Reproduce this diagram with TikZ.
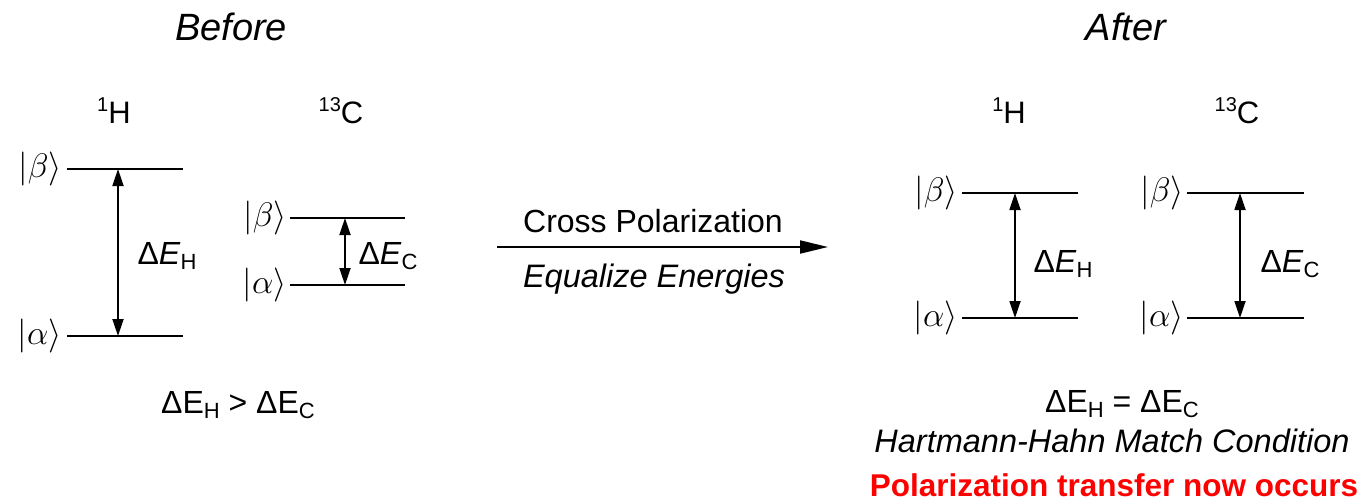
\documentclass[tikz,border=0pt]{standalone}
\usepackage{fix-cm}
\usepackage{fontspec}
\setmainfont{Liberation Sans}
\usetikzlibrary{arrows.meta}
% small raised / lowered labels
\newcommand{\upsup}[1]{\raisebox{12pt}{\fontsize{20}{20}\selectfont #1}}
\newcommand{\lowsub}[1]{\raisebox{-5pt}{\fontsize{22}{22}\selectfont #1}}
\newcommand{\dE}[1]{Δ\textit{E}\lowsub{#1}}
\newcommand{\dEup}[1]{ΔE\lowsub{#1}}
\begin{document}
\begin{tikzpicture}[x=1pt,y=-1pt,
  level/.style={line width=2pt},
  gap/.style={line width=1.8pt,
    {Triangle[length=17pt,width=11pt]}-{Triangle[length=17pt,width=11pt]}},
  mainarrow/.style={line width=2pt,-{Triangle[length=28pt,width=13pt]}},
  ket/.style={font=\fontsize{34}{34}\selectfont, anchor=east, inner sep=0pt},
  txt/.style={font=\fontsize{32}{38}\selectfont, anchor=base, inner sep=0pt},
  nucleus/.style={font=\fontsize{31}{36}\selectfont, anchor=base, inner sep=0pt},
  title/.style={font=\fontsize{38}{42}\selectfont\itshape, anchor=base, inner sep=0pt},
  note/.style={font=\fontsize{32.5}{38}\selectfont\itshape, anchor=base, inner sep=0pt},
  alert/.style={font=\fontsize{31.5}{36}\selectfont\bfseries, text=red, anchor=base, inner sep=0pt}
]
\useasboundingbox (0,0) rectangle (1366,501);

% ---------- titles ----------
\node[title] (before) at (231,40) {Before};
\node[title] (after) at (1126,40) {After};

% ---------- left: 1H levels ----------
\node[nucleus] (nH1) at (114,123) {\upsup{1}H};
\coordinate (Hb1) at (67,169);  \coordinate (Hb2) at (183,169);
\coordinate (Ha1) at (67,336);  \coordinate (Ha2) at (183,336);
\coordinate (Hbm) at (118,169); \coordinate (Ham) at (118,336);
\draw[level] (Hb1) -- (Hb2);
\draw[level] (Ha1) -- (Ha2);
\draw[gap] (Hbm) -- (Ham);
\node[ket] (kHb1) at (62,169) {$|\beta\rangle$};
\node[ket] (kHa1) at (62,336) {$|\alpha\rangle$};
\node[txt] (dH1) at (167,264) {\dE{H}};

% ---------- left: 13C levels ----------
\node[nucleus] (nC1) at (341,123) {\upsup{13}C};
\coordinate (Cb1) at (290,218);  \coordinate (Cb2) at (405,218);
\coordinate (Ca1) at (290,285);  \coordinate (Ca2) at (405,285);
\coordinate (Cbm) at (345,218);  \coordinate (Cam) at (345,285);
\draw[level] (Cb1) -- (Cb2);
\draw[level] (Ca1) -- (Ca2);
\draw[gap] (Cbm) -- (Cam);
\node[ket] (kCb1) at (287,218) {$|\beta\rangle$};
\node[ket] (kCa1) at (287,285) {$|\alpha\rangle$};
\node[txt] (dC1) at (388,264) {\dE{C}};

\node[txt] (cmp1) at (238,413) {\dEup{H} > \dEup{C}};

% ---------- transformation arrow ----------
\coordinate (p1) at (497,247);
\coordinate (p2) at (828,247);
\draw[mainarrow] (p1) -- (p2);
\node[txt] (cp) at (653,232) {Cross Polarization};
\node[note] (eq) at (654,287) {Equalize Energies};

% ---------- right: 1H levels ----------
\node[nucleus] (nH2) at (1009,123) {\upsup{1}H};
\coordinate (Hb3) at (962,193);  \coordinate (Hb4) at (1078,193);
\coordinate (Ha3) at (962,318);  \coordinate (Ha4) at (1078,318);
\coordinate (Hbn) at (1015,193); \coordinate (Han) at (1015,318);
\draw[level] (Hb3) -- (Hb4);
\draw[level] (Ha3) -- (Ha4);
\draw[gap] (Hbn) -- (Han);
\node[ket] (kHb2) at (958,193) {$|\beta\rangle$};
\node[ket] (kHa2) at (958,318) {$|\alpha\rangle$};
\node[txt] (dH2) at (1063,272) {\dE{H}};

% ---------- right: 13C levels ----------
\node[nucleus] (nC2) at (1237,123) {\upsup{13}C};
\coordinate (Cb3) at (1187,193);  \coordinate (Cb4) at (1304,193);
\coordinate (Ca3) at (1187,318);  \coordinate (Ca4) at (1304,318);
\coordinate (Cbn) at (1240,193);  \coordinate (Can) at (1240,318);
\draw[level] (Cb3) -- (Cb4);
\draw[level] (Ca3) -- (Ca4);
\draw[gap] (Cbn) -- (Can);
\node[ket] (kCb2) at (1184,193) {$|\beta\rangle$};
\node[ket] (kCa2) at (1184,318) {$|\alpha\rangle$};
\node[txt] (dC2) at (1290,272) {\dE{C}};

\node[txt] (cmp2) at (1122,412) {\dEup{H} = \dEup{C}};
\node[note] (hh) at (1112,452) {Hartmann-Hahn Match Condition};
\node[alert] (pt) at (1114,496) {Polarization transfer now occurs};
\end{tikzpicture}
\end{document}
